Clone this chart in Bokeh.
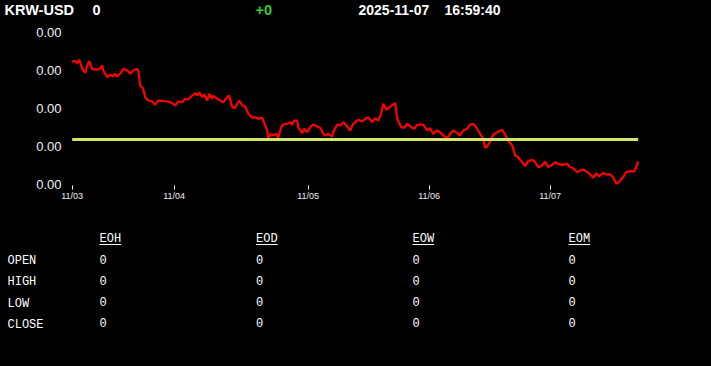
from bokeh.plotting import figure
from bokeh.layouts import column
from bokeh.models import Range1d, FixedTicker, NumeralTickFormatter
from bokeh.core.properties import value
from bokeh.embed import file_html
from bokeh.resources import INLINE

# ---------------- data ----------------
symbol = "KRW-USD"
last_price = "0"
change = "+0"
date_str = "2025-11-07"
time_str = "16:59:40"

# bar index (intraday samples) and KRW-USD rate (x 1e-6 USD)
t = [0, 2, 5, 7, 10, 13, 15, 17, 20, 25, 28, 30, 31, 35, 38, 41, 43, 45, 48, 51,
     55, 58, 61, 65, 66, 68, 71, 73, 76, 80, 83, 86, 91, 96, 100, 103, 106, 110, 113, 116,
     120, 123, 125, 127, 130, 132, 135, 137, 140, 141, 145, 148, 151, 155, 157, 160, 163, 165, 167, 170,
     173, 176, 180, 183, 186, 190, 193, 195, 196, 199, 201, 204, 206, 209, 211, 215, 218, 220, 222, 225,
     226, 230, 232, 235, 238, 241, 245, 248, 251, 253, 256, 260, 261, 265, 268, 271, 275,
     278, 281, 286, 290, 293, 296, 300, 303, 306, 309, 311, 314, 318, 323, 325, 329, 332, 335, 339,
     342, 345, 348, 351, 355, 358, 361, 365, 368, 371, 375, 378, 381, 385, 388, 391, 395, 398, 401, 404,
     407, 411, 413, 415, 418, 421, 425, 430, 433, 436, 440, 443, 446, 450, 453, 456, 460, 463, 466, 470,
     473, 476, 480, 483, 486, 490, 495, 498, 501, 505, 508, 511, 515, 518, 521, 524, 527, 531, 534, 538,
     541, 544, 547, 551, 554, 558, 562, 564, 566]
rate_e6 = [696.09, 696.32, 695.96, 696.45, 695.22, 694.70, 695.66, 696.22, 695.22, 695.09,
           695.30, 695.66, 695.00, 694.12, 694.43, 694.21, 694.57, 694.21, 694.57, 695.22,
           695.00, 694.57, 695.00, 695.22, 695.00, 693.03, 692.59, 691.49, 691.05, 690.92,
           690.49, 691.05, 690.96, 690.92, 690.70, 690.39, 690.92, 690.83, 691.28, 691.18,
           691.71, 692.01, 691.71, 692.11, 691.49, 691.84, 691.05, 691.93, 691.28, 691.71,
           691.28, 691.05, 690.83, 691.49, 691.71, 690.17, 690.09, 690.62, 691.05, 690.39,
           690.26, 689.38, 688.78, 688.86, 688.64, 688.78, 687.76, 687.11, 686.14, 686.67,
           686.45, 686.67, 686.14, 687.54, 687.89, 687.99, 688.20, 687.86, 688.42, 688.42,
           687.54, 686.75, 687.33, 686.88, 687.54, 687.89, 687.63, 687.46, 686.67, 686.45,
           686.67, 686.32, 686.88, 687.89, 687.76, 688.20, 687.63,
           687.11, 687.99, 688.51, 688.29, 688.64, 688.86, 688.20, 688.72, 688.42, 689.30,
           690.62, 689.83, 690.26, 690.70, 688.64, 687.54, 687.46, 687.99, 687.54, 687.33,
           687.86, 687.89, 687.89, 687.11, 687.41, 686.67, 687.11, 686.88, 686.45, 686.09,
           686.67, 687.11, 686.75, 686.45, 687.11, 687.33, 687.89, 687.99, 687.54, 686.88,
           686.01, 684.83, 685.00, 685.70, 686.54, 686.88, 687.20, 686.54, 685.79, 685.13,
           683.82, 683.59, 682.93, 682.41, 683.07, 683.25, 682.93, 682.28, 682.50, 683.03,
           682.28, 682.59, 682.93, 682.72, 682.59, 682.72, 682.28, 682.14, 681.62, 681.84,
           681.97, 681.62, 681.32, 680.88, 681.49, 681.05, 681.54, 681.32, 681.32, 680.96,
           680.09, 680.39, 680.96, 681.62, 681.75, 681.71, 682.28, 683.03]
prev_close_e6 = 685.92

x_tick_pos = [0, 102, 236, 357, 478]
x_tick_labels = ["11/03", "11/04", "11/05", "11/06", "11/07"]
y_ticks_e6 = [680, 685, 690, 695, 700]

table_cols = ["EOH", "EOD", "EOW", "EOM"]
table_rows = ["OPEN", "HIGH", "LOW", "CLOSE"]
table_vals = [["0", "0", "0", "0"],
              ["0", "0", "0", "0"],
              ["0", "0", "0", "0"],
              ["0", "0", "0", "0"]]

rate = [v * 1e-6 for v in rate_e6]
prev_close = prev_close_e6 * 1e-6

# ---------------- layout constants ----------------
W = 711
BG = "#000000"
FG = "#ffffff"
SANS = value("Liberation Sans")
MONO = value("Liberation Mono")


def blank_fig(h, y0, y1):
    f = figure(width=W, height=h, output_backend="svg", toolbar_location=None,
               x_range=Range1d(0, W), y_range=Range1d(y0, y1),
               x_axis_type=None, y_axis_type=None,
               min_border=0, min_border_left=0, min_border_right=0,
               min_border_top=0, min_border_bottom=0,
               background_fill_color=BG, border_fill_color=BG,
               outline_line_color=None, frame_align=False)
    f.grid.visible = False
    return f


# ---------------- header ----------------
head = blank_fig(24, 24, 0)
hy = 9
head.text(x=[4], y=[hy], text=[symbol], text_font=SANS, text_font_style="bold",
          text_font_size="14.5px", text_color=FG, text_baseline="middle")
head.text(x=[92], y=[hy], text=[last_price], text_font=SANS, text_font_style="bold",
          text_font_size="14.5px", text_color=FG, text_baseline="middle")
head.text(x=[255], y=[hy], text=[change], text_font=SANS, text_font_style="bold",
          text_font_size="14.5px", text_color="#33cc33", text_baseline="middle")
head.text(x=[358], y=[hy], text=[date_str], text_font=SANS, text_font_style="bold",
          text_font_size="14px", text_color=FG, text_baseline="middle")
head.text(x=[444], y=[hy], text=[time_str], text_font=SANS, text_font_style="bold",
          text_font_size="14px", text_color=FG, text_baseline="middle")

# ---------------- chart ----------------
chart = figure(width=W, height=190, output_backend="svg", toolbar_location=None,
               x_range=Range1d(-3.7, 570.3),
               y_range=Range1d(679.868e-6, 700.526e-6),
               min_border_left=68, min_border_right=69,
               min_border_top=4, min_border_bottom=29,
               background_fill_color=BG, border_fill_color=BG,
               outline_line_color=None, frame_align=False)
chart.grid.visible = False

chart.line(t, rate, line_color="#ff0000", line_width=2.2)
chart.line([t[0], t[-1]], [prev_close, prev_close], line_color="#d2e46a", line_width=3)

ya = chart.yaxis[0]
ya.ticker = FixedTicker(ticks=[v * 1e-6 for v in y_ticks_e6])
ya.formatter = NumeralTickFormatter(format="0.00")
ya.axis_line_color = None
ya.major_tick_line_color = None
ya.major_tick_out = 0
ya.major_tick_in = 0
ya.minor_tick_line_color = None
ya.major_label_text_color = "#f2f2f2"
ya.major_label_text_font = "Liberation Sans"
ya.major_label_text_font_size = "13px"
ya.major_label_standoff = 7

xa = chart.xaxis[0]
xa.ticker = FixedTicker(ticks=x_tick_pos)
xa.major_label_overrides = {p: l for p, l in zip(x_tick_pos, x_tick_labels)}
xa.axis_line_color = None
xa.major_tick_line_color = FG
xa.major_tick_out = 4
xa.major_tick_in = 0
xa.minor_tick_line_color = None
xa.major_label_text_color = "#eeeeee"
xa.major_label_text_font = "Liberation Sans"
xa.major_label_text_font_size = "9px"
xa.major_label_standoff = 1

# ---------------- table ----------------
tab = blank_fig(152, 366, 214)
col_x = [99, 255.5, 412, 568]
row_label_x = 7
header_y = 238.5
row_label_y = [260.5, 281.8, 303.1, 324.4]
row_val_y = [258.5, 279.8, 301.1, 322.4]
char_w = 7.2

tab.text(x=col_x, y=[header_y] * len(col_x), text=table_cols, text_font=MONO,
         text_font_size="12px", text_color=FG, text_baseline="middle")
tab.segment(x0=col_x, y0=[header_y + 5.5] * len(col_x),
            x1=[x + char_w * len(c) for x, c in zip(col_x, table_cols)],
            y1=[header_y + 5.5] * len(col_x), line_color=FG, line_width=1)
tab.text(x=[row_label_x] * len(table_rows), y=row_label_y, text=table_rows,
         text_font=MONO, text_font_size="12px", text_color=FG, text_baseline="middle")
vx, vy, vt = [], [], []
for ri, row in enumerate(table_vals):
    for ci, v in enumerate(row):
        vx.append(col_x[ci])
        vy.append(row_val_y[ri])
        vt.append(v)
tab.text(x=vx, y=vy, text=vt, text_font=MONO, text_font_size="12px",
         text_color=FG, text_baseline="middle")

layout = column(head, chart, tab, spacing=0)

html = file_html(layout, INLINE, title="KRW-USD")
html = html.replace("</head>",
                    "<style>html,body{margin:0;padding:0;background:#000;}</style></head>", 1)
open("out.html", "w").write(html)
